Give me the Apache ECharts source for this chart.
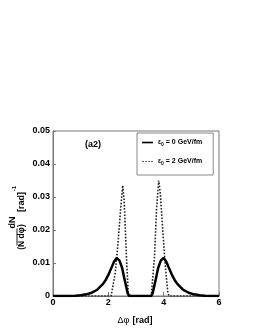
<!DOCTYPE html>
<html><head><meta charset="utf-8">
<script src="https://cdn.jsdelivr.net/npm/echarts@6/dist/echarts.min.js"></script>
<style>html,body{margin:0;padding:0;background:#fff}#c{width:255px;height:330px}</style>
</head><body><div id="c"></div>
<script>
// Solid curve: eps0 = 0 GeV/fm
var phiSolid = [0, 0.5, 0.8, 1.0, 1.2, 1.4, 1.6, 1.8, 1.9, 2.0, 2.1, 2.2, 2.3, 2.35, 2.4, 2.5, 2.6, 2.7, 2.75,
                3.55, 3.6, 3.7, 3.8, 3.9, 3.95, 4.0, 4.1, 4.2, 4.3, 4.4, 4.5, 4.7, 4.9, 5.1, 5.3, 5.5, 5.8, 6.0];
var valSolid = [0, 0, 0.00005, 0.0002, 0.0005, 0.001, 0.0019, 0.0036, 0.0048, 0.0064, 0.0083, 0.0103, 0.0115, 0.0114, 0.0108, 0.0085, 0.0045, 0.0008, 0,
                0, 0.0008, 0.0045, 0.0085, 0.0108, 0.0114, 0.0115, 0.0103, 0.0083, 0.0064, 0.0048, 0.0036, 0.0019, 0.001, 0.0005, 0.0002, 0.00005, 0, 0];
// Dotted curve: eps0 = 2 GeV/fm
var phiDot = [0, 2.1, 2.17, 2.25, 2.35, 2.45, 2.52, 2.57, 2.62, 2.67, 2.72, 2.8,
              3.55, 3.6, 3.67, 3.74, 3.82, 3.88, 3.95, 4.05, 4.15, 4.2, 6.0];
var valDot = [0, 0, 0.0005, 0.007, 0.016, 0.027, 0.0335, 0.029, 0.019, 0.009, 0.001, 0,
              0, 0.0005, 0.012, 0.026, 0.035, 0.031, 0.022, 0.01, 0.001, 0, 0];
var xTicks = [0, 2, 4, 6];
var yTicks = [0, 0.01, 0.02, 0.03, 0.04, 0.05];
var legendNames = ['e0_0', 'e0_2'];
var legendLabels = {'e0_0': '0 GeV/fm', 'e0_2': '2 GeV/fm'};

function pairs(xs, ys){ return xs.map(function(x,i){ return [x, ys[i]]; }); }

var chart = echarts.init(document.getElementById('c'), null, {renderer:'canvas'});
var F = 'Liberation Sans, Arial, sans-serif';
chart.setOption({
  animation: false,
  grid: {left: 53, right: 36, top: 131, bottom: 34, show: true, borderColor: '#777', borderWidth: 1},
  xAxis: {
    type: 'value', min: xTicks[0], max: xTicks[xTicks.length-1], interval: 2,
    axisLine: {show: true, lineStyle: {color: '#777'}},
    axisTick: {show: true, inside: true, length: 4, lineStyle: {color: '#777'}},
    splitLine: {show: false},
    axisLabel: {color: '#000', fontFamily: F, fontWeight: 'bold', fontSize: 9, margin: 2}
  },
  yAxis: {
    type: 'value', min: yTicks[0], max: yTicks[yTicks.length-1], interval: 0.01,
    axisLine: {show: true, lineStyle: {color: '#777'}},
    axisTick: {show: true, inside: true, length: 3, lineStyle: {color: '#777'}},
    splitLine: {show: false},
    axisLabel: {color: '#000', fontFamily: F, fontWeight: 'bold', fontSize: 9, margin: 3,
      formatter: function(v){ return v === 0 ? '0' : v.toFixed(2); }}
  },
  legend: {
    left: 137, top: 133, orient: 'vertical',
    data: [
      {name: legendNames[0], icon: 'path://M0,0 L20,0 L20,3 L0,3 Z'},
      {name: legendNames[1], icon: 'path://M0,0 L4,0 L4,2 L0,2 Z M6,0 L10,0 L10,2 L6,2 Z M12,0 L16,0 L16,2 L12,2 Z M18,0 L22,0 L22,2 L18,2 Z'}
    ],
    itemWidth: 11, itemHeight: 8, itemGap: 11,
    padding: [6, 11, 9, 5],
    borderColor: '#888', borderWidth: 1, backgroundColor: '#fff',
    textStyle: {
      fontFamily: F, fontSize: 7, fontWeight: 'bold', color: '#000',
      rich: {
        e: {fontFamily: F, fontSize: 6.5, color: '#000'},
        s: {fontFamily: F, fontSize: 5, color: '#000', verticalAlign: 'bottom', padding: [4,0,0,0]},
        t: {fontFamily: F, fontSize: 7, fontWeight: 'bold', color: '#000'}
      }
    },
    formatter: function(n){ return '{e|ε}{s|0}{t| = ' + legendLabels[n] + '}'; }
  },
  series: [
    {name: legendNames[0], type: 'line', symbol: 'none', data: pairs(phiSolid, valSolid),
     lineStyle: {color: '#000', width: 2.5}, itemStyle: {color: '#000'}, z: 3},
    {name: legendNames[1], type: 'line', symbol: 'none', data: pairs(phiDot, valDot),
     lineStyle: {color: '#222', width: 1.6, type: 'dotted'}, itemStyle: {color: '#666'}, z: 2}
  ],
  graphic: [
    {type: 'text', x: 93, y: 145, style: {text: '(a2)', font: 'bold 9px ' + F, fill: '#000', align: 'center', verticalAlign: 'middle'}},
    {type: 'text', x: 135, y: 321, style: {text: '{g|Δφ} {b|[rad]}', align: 'center', verticalAlign: 'middle',
      rich: {g: {font: '9px ' + F, fill: '#000'}, b: {font: 'bold 9px ' + F, fill: '#000'}}}},
    {type: 'text', x: 12.5, y: 222.5, rotation: Math.PI/2, style: {text: 'dN', font: 'bold 9px ' + F, fill: '#000', align: 'center', verticalAlign: 'middle'}},
    {type: 'line', shape: {x1: 17, y1: 228.5, x2: 17, y2: 245.5}, style: {stroke: '#000', lineWidth: 0.9}},
    {type: 'text', x: 21.5, y: 237, rotation: Math.PI/2, style: {text: '(N dφ)', font: 'bold 8.5px ' + F, fill: '#000', align: 'center', verticalAlign: 'middle'}},
    {type: 'text', x: 21.5, y: 202, rotation: Math.PI/2, style: {text: '[rad]', font: 'bold 9px ' + F, fill: '#000', align: 'center', verticalAlign: 'middle'}},
    {type: 'text', x: 14.5, y: 188.5, rotation: Math.PI/2, style: {text: '-1', font: 'bold 6px ' + F, fill: '#000', align: 'center', verticalAlign: 'middle'}}
  ]
});
</script></body></html>
